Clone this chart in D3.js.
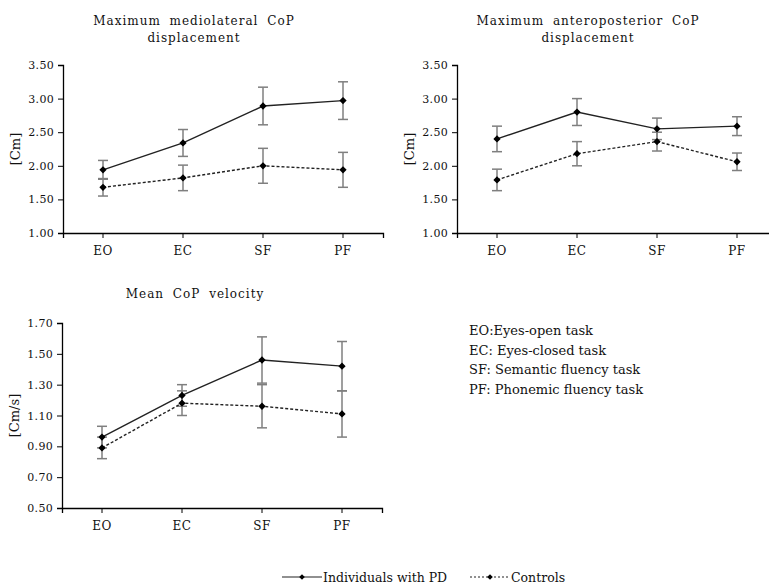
<!DOCTYPE html>
<html lang="en">
  <head>
    <meta charset="UTF-8" />
    <title>CoP panels</title>
    <script src="https://cdn.jsdelivr.net/npm/d3@7"></script>
    <style>
      body { margin: 0; background: #fff; }
      svg text { font-family: "DejaVu Serif", serif; fill: #111; }
    </style>
  </head>
  <body>
    <script>
      const tasks = ["EO", "EC", "SF", "PF"];

      // mediolateral displacement [Cm]
      const mlPD = [1.94, 2.34, 2.89, 2.97];
      const mlPDErr = [0.14, 0.20, 0.28, 0.28];
      const mlCtrl = [1.68, 1.82, 2.00, 1.94];
      const mlCtrlErr = [0.13, 0.19, 0.26, 0.26];

      // anteroposterior displacement [Cm]
      const apPD = [2.40, 2.80, 2.55, 2.59];
      const apPDErr = [0.19, 0.20, 0.16, 0.14];
      const apCtrl = [1.79, 2.18, 2.36, 2.06];
      const apCtrlErr = [0.16, 0.18, 0.14, 0.13];

      // mean velocity [Cm/s]
      const velPD = [0.96, 1.23, 1.46, 1.42];
      const velPDErr = [0.07, 0.07, 0.15, 0.16];
      const velCtrl = [0.89, 1.18, 1.16, 1.11];
      const velCtrlErr = [0.07, 0.08, 0.14, 0.15];

      const yTicks135 = [1.0, 1.5, 2.0, 2.5, 3.0, 3.5];
      const yTicksVel = [0.5, 0.7, 0.9, 1.1, 1.3, 1.5, 1.7];

      const notes = [
        "EO:Eyes-open task",
        "EC: Eyes-closed task",
        "SF: Semantic fluency task",
        "PF: Phonemic fluency task",
      ];

      const serif = "'DejaVu Serif', serif";

      const svg = d3
        .select("body")
        .append("svg")
        .attr("width", 769)
        .attr("height", 586);

      const panels = [
        {
          title: ["Maximum mediolateral CoP", "displacement"],
          titleX: 194, titleY: 25,
          x0: 63, y0: 65, h: 168,
          domain: [1, 3.5], ticks: yTicks135, label: "[Cm]",
          pd: mlPD, pdErr: mlPDErr, ctrl: mlCtrl, ctrlErr: mlCtrlErr,
        },
        {
          title: ["Maximum anteroposterior CoP", "displacement"],
          titleX: 588, titleY: 25,
          x0: 457, y0: 65, h: 168,
          domain: [1, 3.5], ticks: yTicks135, label: "[Cm]",
          pd: apPD, pdErr: apPDErr, ctrl: apCtrl, ctrlErr: apCtrlErr,
        },
        {
          title: ["Mean CoP velocity"],
          titleX: 195, titleY: 298,
          x0: 62, y0: 323, h: 185,
          domain: [0.5, 1.7], ticks: yTicksVel, label: "[Cm/s]",
          pd: velPD, pdErr: velPDErr, ctrl: velCtrl, ctrlErr: velCtrlErr,
        },
      ];

      const diamond = d3.symbol().type(d3.symbolDiamond2).size(34);

      panels.forEach((p) => {
        const g = svg.append("g").attr("transform", `translate(${p.x0},${p.y0})`);
        const x = d3.scaleBand().domain(tasks).range([0, 320]);
        const y = d3.scaleLinear().domain(p.domain).range([p.h, 0]);
        const cx = (t) => x(t) + x.bandwidth() / 2;

        // y axis
        const yAxis = g
          .append("g")
          .call(d3.axisLeft(y).tickValues(p.ticks).tickFormat(d3.format(".2f")).tickSize(5).tickPadding(4));
        yAxis.attr("font-family", serif);
        yAxis.select(".domain").attr("stroke", "#000").attr("stroke-width", 1.3);
        yAxis.selectAll("text").style("font-size", "11px").attr("letter-spacing", "0.3px");

        // x axis
        const xAxis = g
          .append("g")
          .attr("transform", `translate(0,${p.h})`)
          .call(d3.axisBottom(x).tickSize(5).tickPadding(8).tickSizeOuter(5));
        xAxis.attr("font-family", serif);
        xAxis.select(".domain").attr("stroke", "#000").attr("stroke-width", 1.3);
        xAxis.selectAll("text").style("font-size", "12px").attr("letter-spacing", "0.5px");

        // y label
        g.append("text")
          .attr("transform", `translate(${-43},${p.h / 2}) rotate(-90)`)
          .attr("text-anchor", "middle")
          .style("font-size", "13px")
          .text(p.label);

        // title
        p.title.forEach((line, i) => {
          svg.append("text")
            .attr("x", p.titleX)
            .attr("y", p.titleY + i * 17)
            .attr("text-anchor", "middle")
            .attr("letter-spacing", "1px")
            .attr("word-spacing", "4px")
            .style("font-size", "12px")
            .text(line);
        });

        const series = [
          { vals: p.ctrl, errs: p.ctrlErr, dash: "3,2" },
          { vals: p.pd, errs: p.pdErr, dash: null },
        ];

        // error bars
        series.forEach((s) => {
          const eb = g.append("g").attr("stroke", "#7f7f7f").attr("stroke-width", 1.5);
          tasks.forEach((t, i) => {
            const hi = y(s.vals[i] + s.errs[i]);
            const lo = y(s.vals[i] - s.errs[i]);
            eb.append("line").attr("x1", cx(t)).attr("x2", cx(t)).attr("y1", hi).attr("y2", lo);
            eb.append("line").attr("x1", cx(t) - 5).attr("x2", cx(t) + 5).attr("y1", hi).attr("y2", hi);
            eb.append("line").attr("x1", cx(t) - 5).attr("x2", cx(t) + 5).attr("y1", lo).attr("y2", lo);
          });
        });

        // lines and markers
        series.forEach((s) => {
          const line = d3.line().x((d, i) => cx(tasks[i])).y((d) => y(d));
          g.append("path")
            .datum(s.vals)
            .attr("fill", "none")
            .attr("stroke", "#222")
            .attr("stroke-width", 1.4)
            .attr("stroke-dasharray", s.dash)
            .attr("d", line);
          g.selectAll(null)
            .data(s.vals)
            .join("path")
            .attr("d", diamond)
            .attr("fill", "#000")
            .attr("transform", (d, i) => `translate(${cx(tasks[i])},${y(d)})`);
        });
      });

      // task notes
      svg.append("g")
        .selectAll("text")
        .data(notes)
        .join("text")
        .attr("x", 469)
        .attr("y", (d, i) => 335 + i * 19.5)
        .style("font-size", "13px")
        .text((d) => d);

      // bottom legend
      const legend = [
        { label: "Individuals with PD", x: 282, dash: null },
        { label: "Controls", x: 470, dash: "2,2" },
      ];
      const lg = svg.append("g").attr("transform", "translate(0,577)");
      legend.forEach((l) => {
        lg.append("line")
          .attr("x1", l.x).attr("x2", l.x + 40)
          .attr("stroke", "#222").attr("stroke-width", 1.2)
          .attr("stroke-dasharray", l.dash);
        lg.append("path")
          .attr("d", d3.symbol().type(d3.symbolDiamond2).size(20))
          .attr("transform", `translate(${l.x + 20},0)`);
        lg.append("text")
          .attr("x", l.x + 41)
          .attr("y", 5)
          .style("font-size", "12.5px")
          .text(l.label);
      });
    </script>
  </body>
</html>
